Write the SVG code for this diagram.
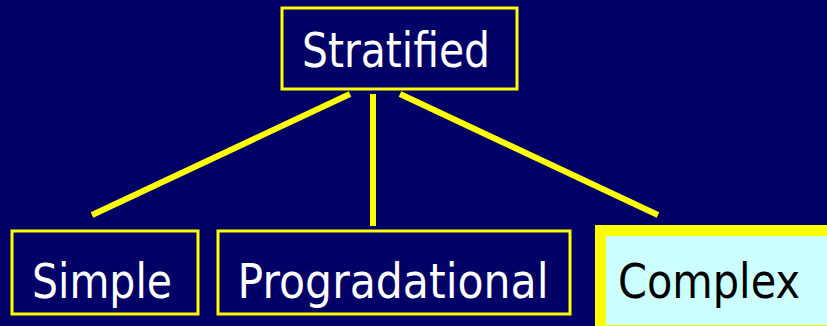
<svg xmlns="http://www.w3.org/2000/svg" width="827" height="326" viewBox="0 0 827 326">
<style>
.box{fill:#000066;stroke:#FFFF00;stroke-width:3}
.t{font-family:"DejaVu Sans",Verdana,sans-serif;font-size:48px;fill:#FFFFFF;text-anchor:middle}
.c{stroke:#FFFF00;stroke-width:6;fill:none}
</style>
<rect width="827" height="326" fill="#000066"/>
<g id="connectors">
<line class="c" x1="350" y1="94" x2="92" y2="215"/>
<line class="c" x1="373" y1="94" x2="373" y2="226"/>
<line class="c" x1="400" y1="94" x2="658" y2="215"/>
</g>
<g id="stratified">
<rect class="box" x="282" y="8" width="235" height="81"/>
<text class="t" x="396" y="67" textLength="188" lengthAdjust="spacingAndGlyphs">Stratified</text>
</g>
<g id="simple">
<rect class="box" x="12" y="231" width="186" height="83"/>
<text class="t" x="102" y="298" textLength="140" lengthAdjust="spacingAndGlyphs">Simple</text>
</g>
<g id="progradational">
<rect class="box" x="218" y="231" width="352" height="83"/>
<text class="t" x="393" y="298" textLength="311" lengthAdjust="spacingAndGlyphs">Progradational</text>
</g>
<g id="complex">
<rect x="600.5" y="230.5" width="232" height="100" fill="#CCFFFF" stroke="#FFFF00" stroke-width="11"/>
<text class="t" x="709" y="298" style="fill:#000000" textLength="182" lengthAdjust="spacingAndGlyphs">Complex</text>
</g>
</svg>
